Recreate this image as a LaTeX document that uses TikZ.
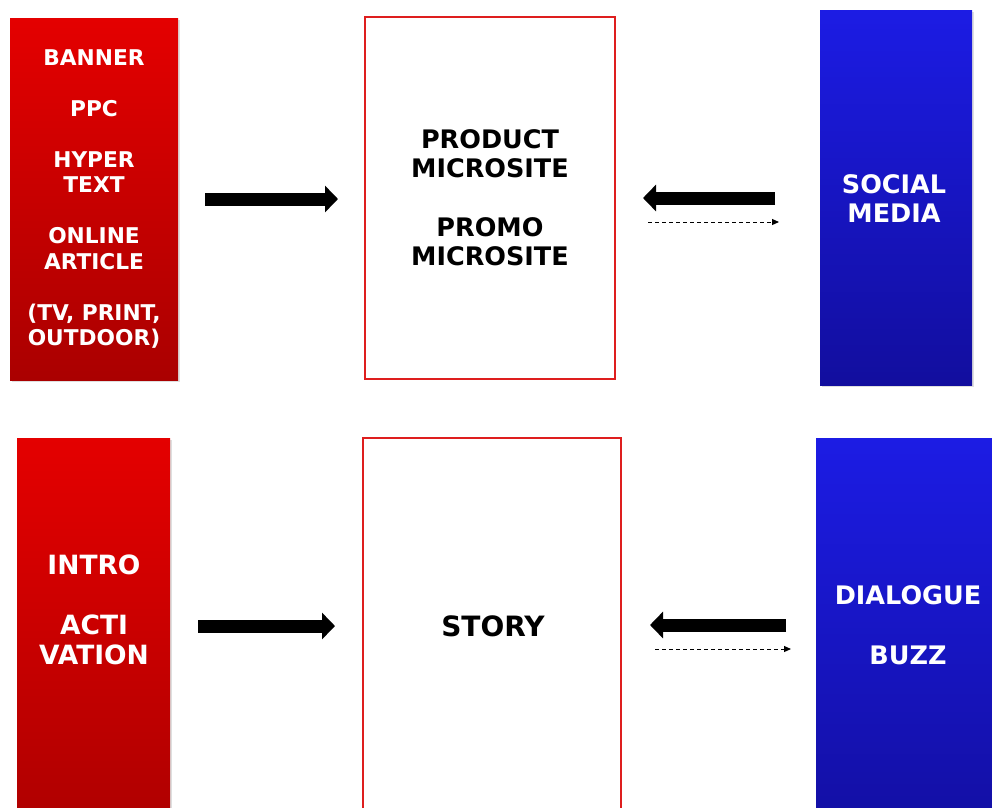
\documentclass[tikz,border=0pt]{standalone}
\usepackage{fontspec}
\setmainfont{DejaVu Sans}
\usetikzlibrary{arrows.meta,shadows}
\definecolor{adtop}{RGB}{228,0,0}
\definecolor{adbot}{RGB}{170,0,0}
\definecolor{socialtop}{RGB}{28,28,228}
\definecolor{socialbot}{RGB}{18,14,158}
\definecolor{siteframe}{RGB}{222,30,30}
\begin{document}
\begin{tikzpicture}[
  x=1pt,
  y=-1pt,
  redbox/.style={
    top color=adtop,
    bottom color=adbot,
    drop shadow={opacity=0.25,shadow xshift=2pt,shadow yshift=-2pt}
  },
  bluebox/.style={
    top color=socialtop,
    bottom color=socialbot,
    drop shadow={opacity=0.25,shadow xshift=2pt,shadow yshift=-2pt}
  },
  sitebox/.style={
    draw=siteframe,
    line width=2pt,
    fill=white
  },
  whitetext/.style={
    text=white,
    align=center,
    font=\bfseries
  },
  blacktext/.style={
    text=black,
    align=center,
    font=\bfseries
  },
  bigarrow/.style={
    line width=13pt,
    -{Triangle[length=13pt,width=26pt]}
  },
  backarrow/.style={
    line width=1pt,
    dash pattern=on 4pt off 3pt,
    -{Triangle[length=7pt,width=6pt]}
  }
]
  \useasboundingbox (0,0) rectangle (992,807);
  \clip (0,0) rectangle (992,807);

  % Upper row
  \node[redbox,minimum width=168pt,minimum height=362pt]
    (ads) at (94,199) {};
  \node[sitebox,minimum width=250pt,minimum height=362pt]
    (site) at (490,198) {};
  \node[bluebox,minimum width=152pt,minimum height=375pt]
    (social) at (896,197.5) {};

  \node[whitetext,font=\bfseries\fontsize{21.7}{25.5}\selectfont]
    (adstext) at (ads.center)
    {BANNER\\[25.5pt]PPC\\[25.5pt]HYPER\\TEXT\\[25.5pt]ONLINE\\ARTICLE\\[25.5pt](TV, PRINT,\\OUTDOOR)};
  \node[blacktext,font=\bfseries\fontsize{25.5}{29.3}\selectfont]
    (sitetext) at (site.center)
    {PRODUCT\\MICROSITE\\[29.3pt]PROMO\\MICROSITE};
  \node[whitetext,font=\bfseries\fontsize{25.5}{29}\selectfont]
    (socialtext) at (894,198.5)
    {SOCIAL\\MEDIA};

  \coordinate (a1s) at (205,199);
  \coordinate (a1e) at (338,199);
  \coordinate (b1s) at (775,198);
  \coordinate (b1e) at (643,198);
  \coordinate (c1s) at (648,222);
  \coordinate (c1e) at (779,222);

  \draw[bigarrow] (a1s) -- (a1e);
  \draw[bigarrow] (b1s) -- (b1e);
  \draw[backarrow] (c1s) -- (c1e);

  % Lower row (boxes run off the page)
  \node[redbox,minimum width=153pt,minimum height=420pt,anchor=north]
    (intro) at (93.5,438) {};
  \node[sitebox,minimum width=258pt,minimum height=420pt,anchor=north]
    (story) at (492,437) {};
  \node[bluebox,minimum width=190pt,minimum height=420pt,anchor=north west]
    (dialogue) at (816,438) {};

  \node[whitetext,font=\bfseries\fontsize{26.5}{30}\selectfont]
    (introtext) at (94,610)
    {INTRO\\[30pt]ACTI\\VATION};
  \node[blacktext,font=\bfseries\fontsize{28}{32}\selectfont]
    (storytext) at (493,626)
    {STORY};
  \node[whitetext,font=\bfseries\fontsize{25.5}{30}\selectfont]
    (dialoguetext) at (908,625)
    {DIALOGUE\\[30pt]BUZZ};

  \coordinate (a2s) at (198,626);
  \coordinate (a2e) at (335,626);
  \coordinate (b2s) at (786,625);
  \coordinate (b2e) at (650,625);
  \coordinate (c2s) at (655,649);
  \coordinate (c2e) at (791,649);

  \draw[bigarrow] (a2s) -- (a2e);
  \draw[bigarrow] (b2s) -- (b2e);
  \draw[backarrow] (c2s) -- (c2e);
\end{tikzpicture}
\end{document}
